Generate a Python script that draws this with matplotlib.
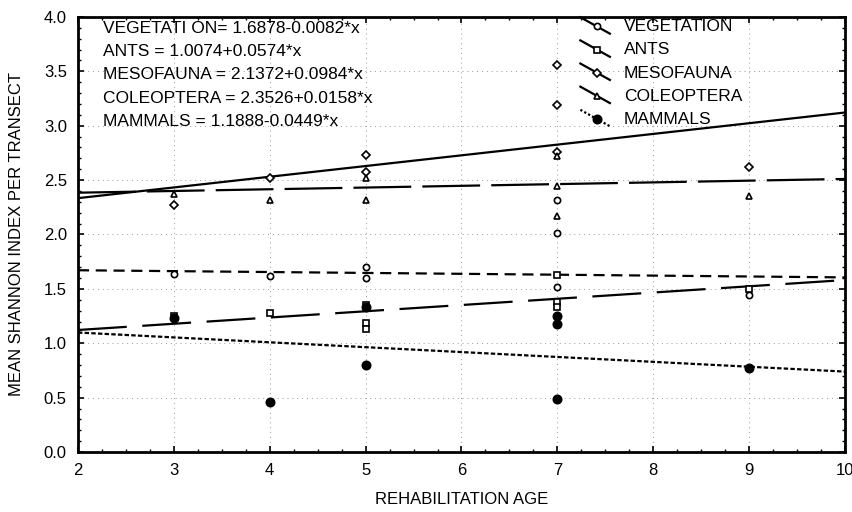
import numpy as np
import matplotlib
matplotlib.use("Agg")
import matplotlib.pyplot as plt
from matplotlib.lines import Line2D
from matplotlib.legend_handler import HandlerLine2D
from matplotlib.ticker import MultipleLocator

plt.rcParams['font.family'] = ['Liberation Sans', 'DejaVu Sans']

# points
veg_x = [3, 4, 5, 5, 7, 7, 7, 9]
veg_y = [1.64, 1.62, 1.70, 1.60, 2.32, 2.01, 1.52, 1.44]
ants_x = [3, 4, 5, 5, 5, 7, 7, 7, 9]
ants_y = [1.25, 1.28, 1.35, 1.19, 1.13, 1.63, 1.38, 1.33, 1.50]
meso_x = [3, 4, 5, 5, 7, 7, 7, 9]
meso_y = [2.27, 2.52, 2.73, 2.57, 3.56, 3.19, 2.76, 2.62]
cole_x = [3, 4, 5, 5, 7, 7, 7, 9]
cole_y = [2.37, 2.32, 2.52, 2.32, 2.72, 2.45, 2.17, 2.35]
mamm_x = [3, 4, 5, 5, 7, 7, 7, 9]
mamm_y = [1.23, 0.46, 1.33, 0.80, 1.25, 1.18, 0.49, 0.77]

# regression coefficients shown in the figure
names = ["VEGETATION", "ANTS", "MESOFAUNA", "COLEOPTERA", "MAMMALS"]
intercepts = [1.6878, 1.0074, 2.1372, 2.3526, 1.1888]
slopes = [-0.0082, 0.0574, 0.0984, 0.0158, -0.0449]
eq_labels = ["VEGETATI ON= 1.6878-0.0082*x",
             "ANTS = 1.0074+0.0574*x",
             "MESOFAUNA = 2.1372+0.0984*x",
             "COLEOPTERA = 2.3526+0.0158*x",
             "MAMMALS = 1.1888-0.0449*x"]

xs = [veg_x, ants_x, meso_x, cole_x, mamm_x]
ys = [veg_y, ants_y, meso_y, cole_y, mamm_y]
markers = ['o', 's', 'D', '^', 'o']
msizes = [4.5, 5, 4, 4, 6]
mfaces = ['white', 'white', 'white', 'white', 'black']
dashes = [(5, 3), (22, 7), None, (26, 5), (2, 1)]

FS = 12.5   # annotation / legend text
TS = 12     # ticks and axis labels


# legend keys in the original are short slanted strokes with the marker on them
class SlantHandler(HandlerLine2D):
    def create_artists(self, legend, orig_handle, xdescent, ydescent,
                       width, height, fontsize, trans):
        x0 = -xdescent
        ln = Line2D([x0, x0 + width], [height * 1.15, -height * 0.2],
                    color='black', lw=1.6)
        if orig_handle.get_linestyle() == ':':
            ln.set_linestyle((0, (1, 1)))
        ln.set_transform(trans)
        mk = Line2D([x0 + width * 0.55], [height * 0.4],
                    linestyle='none', marker=orig_handle.get_marker(),
                    ms=orig_handle.get_markersize(),
                    mfc=orig_handle.get_markerfacecolor(), mec='black', mew=1.2)
        mk.set_transform(trans)
        return [ln, mk]


fig = plt.figure(figsize=(8.53, 5.12), dpi=100)
ax = fig.add_axes([0.0914, 0.117, 0.8992, 0.850])

line_x = np.array([2.0, 10.0])
handles = []
for i in range(5):
    ly = intercepts[i] + slopes[i] * line_x
    if dashes[i] is None:
        ax.plot(line_x, ly, color='black', lw=1.6, zorder=3)
    else:
        ax.plot(line_x, ly, color='black', lw=1.6, dashes=dashes[i], zorder=3)
    ax.plot(xs[i], ys[i], linestyle='none', marker=markers[i], ms=msizes[i],
            mfc=mfaces[i], mec='black', mew=1.2, zorder=4)
    h = Line2D([], [], color='black', marker=markers[i], ms=msizes[i],
               mfc=mfaces[i], mec='black',
               linestyle=':' if i == 4 else '-')
    handles.append(h)

leg = ax.legend(handles, names, loc='upper left', bbox_to_anchor=(0.655, 0.995),
                frameon=False, prop={'size': FS},
                handlelength=1.7, handletextpad=0.8, labelspacing=0.46,
                borderaxespad=0, borderpad=0,
                handler_map={Line2D: SlantHandler()})

for i, t in enumerate(eq_labels):
    ax.text(0.033, 0.991 - i * 0.0535, t, transform=ax.transAxes,
            fontsize=FS, va='top', ha='left')

ax.set_xlim(2, 10)
ax.set_ylim(0, 4)
ax.xaxis.set_major_locator(MultipleLocator(1))
ax.xaxis.set_minor_locator(MultipleLocator(0.25))
ax.yaxis.set_minor_locator(MultipleLocator(0.1))
ax.set_yticks(np.arange(0, 4.01, 0.5))
ax.set_yticklabels(["%.1f" % v for v in np.arange(0, 4.01, 0.5)])
ax.tick_params(which='both', direction='in', top=True, right=True)
ax.tick_params(which='major', length=4, width=1.2, pad=8, labelsize=TS)
ax.tick_params(which='minor', length=2.5, width=1)
for s in ax.spines.values():
    s.set_linewidth(2)
ax.grid(True, which='major', linestyle=(0, (1, 4)), color='#999999', lw=0.7)

ax.set_xlabel("REHABILITATION AGE", fontsize=TS, labelpad=10)
ax.set_ylabel("MEAN SHANNON INDEX PER TRANSECT", fontsize=TS, labelpad=14)

fig.savefig("out.png", dpi=100)
